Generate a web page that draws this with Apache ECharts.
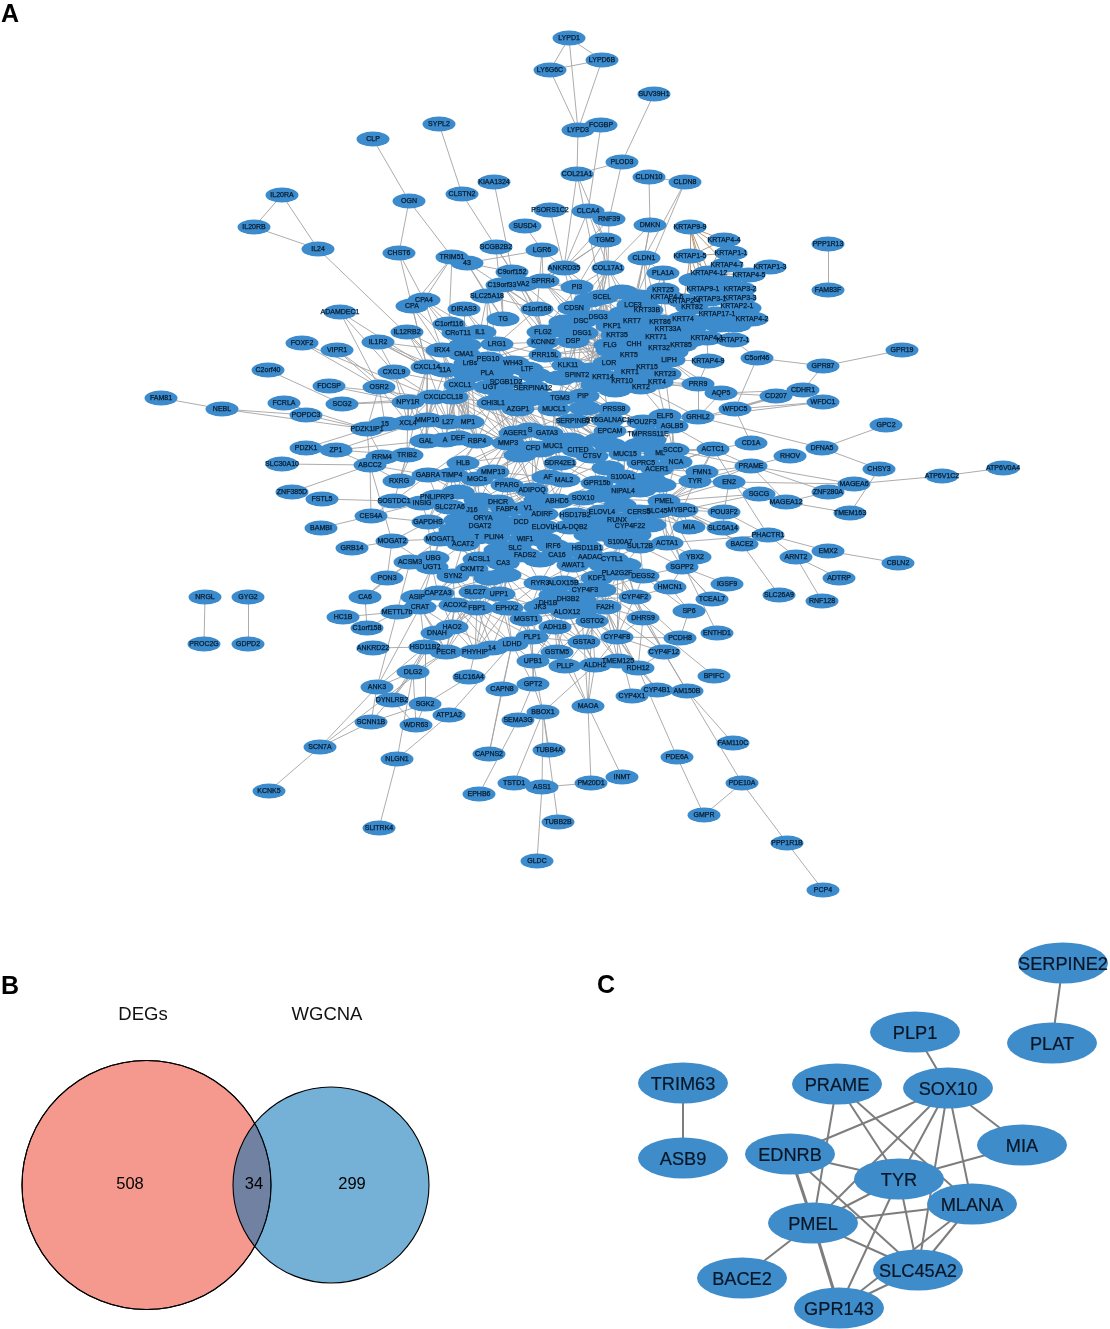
<!DOCTYPE html>
<html><head><meta charset="utf-8">
<style>html,body{margin:0;padding:0;background:#fff}#c{width:1110px;height:1329px}</style>
<script src="https://cdn.jsdelivr.net/npm/echarts@6/dist/echarts.min.js"></script>
</head><body><div id="c"></div>
<script>
const panelANodes = [
["LYPD1",569,38],["LYPD6B",602,60],["LY6G6C",550,70],["FCGBP",601,125],["LYPD3",578,130],["SUV39H1",654,94],["PLOD3",622,162],["COL21A1",577,174],["CLDN10",649,177],["CLDN8",685,182],
["PSORS1C2",550,210],["CLCA4",588,211],["RNF39",609,219],["SUSD4",525,226],["DMKN",650,225],["KRTAP9-9",690,227],["TGM5",605,240],["LGR6",542,250],["CLDN1",644,258],["ANKRD35",564,268],["COL17A1",608,268],
["KRTAP4-4",724,240],["KRTAP1-1",731,253],["KRTAP1-5",690,256],["KRTAP4-7",727,265],["KRTAP1-3",770,267],["PLA1A",663,273],["KRTAP4-12",709,273],["KRTAP4-5",749,275],["PPP1R13",828,244],["FAM83F",828,290],
["CLP",373,139],["SYPL2",439,124],["OGN",409,201],["CLSTN2",462,194],["KIAA1324",494,182],["IL20RA",282,195],["IL20RB",254,227],["IL24",318,249],["CHST6",399,253],["TRIM51",452,257],["43",467,263],["SCGB2B2",496,247],["C9orf152",512,272],
["C19orf33",502,285],["VA2",523,284],["SPRR4",543,281],["SLC25A18",487,296],["CPA",412,306],["CPA4",424,300],["ADAMDEC1",340,312],["DIRAS3",464,309],["C1orf168",537,309],
["TG",503,319],["C1orf116",449,324],["CRoT11",458,333],["IL1",480,332],["IL12RB2",407,332],["FLG2",543,332],["KCNN2",543,342],["LRG1",497,344],["IL1R2",378,342],["IRX4",442,350],["CMA1",464,354],["PEG10",488,359],["PRR15L",545,355],["VIPR1",337,350],["FOXF2",302,343],["C2orf40",268,370],
["LrBs",470,363],["WH43",513,363],["LTF",527,369],["CXCL14",427,367],["11A",445,370],["CXCL9",394,372],["PLA",487,373],["SCGB1D2",506,382],["SERPINA12",533,388],["UGT",490,387],["CXCL1",460,385],["OSR2",379,387],["FDCSP",329,386],["CCL18",452,397],["CXCL",433,397],["NPY1R",408,402],["CHI3L1",493,403],["SCG2",342,404],["FCRLA",284,403],["POPDC3",306,415],["FAM81",161,398],["NEBL",222,409],
["AZGP1",518,409],["MUCL1",554,409],["TGM3",560,398],["SERPINB2",573,421],["PDZK1IP1",367,429],["15",385,424],["XCL4",408,423],["MMP10",427,420],["L27",448,422],["MP1",468,422],["GAL",426,441],["A",445,440],["DEF",458,438],["RBP4",477,441],["S",530,430],["AGER1",515,433],["GATA3",547,433],["MMP3",508,443],["CFD",533,448],["MUC1",553,446],["PDZK1",306,448],["ZP1",336,450],["SLC30A10",282,464],["CITED",578,450],
["ABCC2",370,465],["RRM4",382,457],["TRIB2",407,455],["RXRG",399,481],["HLB",463,463],["GABRA",428,475],["TIMP4",452,475],["MMP13",493,472],["MGCs",477,479],["PPARG",507,485],["ADIPOQ",532,490],["AF",548,477],["MAL2",564,480],["GPR15b",597,483],["SDR42E1",560,463],["CTSV",592,456],
["ZNF385D",292,492],["FSTL5",322,499],["SOSTDC1",394,501],["PNLIPRP3",437,497],["INSIG",422,503],["SLC27A6",450,507],["J16",472,510],["DHCR",498,502],["FABP4",507,509],["V1",528,508],["ADIRF",542,514],["ABHD5",557,501],["SOX10",583,498],["ELOVL4",602,512],["HSD17B2",575,515],["RUNX",617,520],["CES4A",371,516],["BAMBI",321,528],["GAPDHS",428,522],["ORYA",483,518],["DGAT2",480,526],["DCD",521,522],["ELOVL",543,527],["HLA-DQB2",570,527],
["T",477,537],["MOGAT2",392,541],["GRB14",352,548],["MOGAT1",440,539],["ACAT2",463,544],["PLIN4",494,537],["WIF1",525,539],["SLC",515,548],["IRF6",553,546],["HSD11B1",587,548],["CA16",557,555],["FADS2",525,555],["AADAC",590,557],["CYTL1",612,559],["ACSL1",479,559],["CA3",503,563],["AWAT1",573,565],["ACSM3",410,562],["UBG",433,558],["UGT1",432,567],["CKMT2",472,569],["SYN2",453,576],["PON3",387,578],
["KDF1",597,578],["PLA2G2F",617,573],["RYR3",540,583],["ALOX15B",563,583],["CYP4F3",585,590],["SLC27",475,592],["UPP1",499,594],["CAPZA3",438,593],["ASIP",417,597],["CA6",365,597],["CRAT",420,607],["ACOX2",455,605],["METTL7b",397,612],["FBP1",477,608],["EPHX2",507,608],["JK3",540,607],["DH1B",548,603],["DH3B2",568,599],["ALOX12",567,612],["FA2H",605,607],["GSTO2",592,621],["MGST1",526,619],["ADH1B",555,627],["HAO2",452,627],["C1orf158",367,628],["HC1B",343,617],
["DNAH",437,633],["ANKRD22",373,648],["HSD11B2",425,647],["PECR",446,652],["PHYHIP",475,652],["14",492,648],["LDHD",512,644],["PLP1",532,637],["GSTA3",584,642],["GSTM5",557,652],["UPB1",533,661],["PLLP",565,666],["ALDH2",595,665],["DLG2",413,672],["SLC16A4",469,677],["CAPN8",502,689],["GPT2",533,684],["ANK3",377,687],["DYNLRB2",392,700],["SGK2",425,704],["ATP1A2",449,715],["BBOX1",543,712],["SEMA3G",518,720],["MAOA",588,706],["SCNN1B",371,722],["WDR63",416,725],["TUBB4A",549,750],["CAPNS2",489,754],["NLGN1",397,759],["TSTD1",514,783],["ASS1",542,787],["PM20D1",591,783],["SCN7A",320,747],["KCNK5",269,791],["SLITRK4",379,828],["EPHB6",479,794],["TUBB2B",558,822],["GLDC",537,861],
["CYP4F2",635,597],["TCEAL7",712,599],["SP6",689,611],["DHRS9",643,618],["ENTHD1",717,633],["PCDH8",680,638],["CYP4F8",617,637],["CYP4F12",664,652],["TMEM125",618,661],["RDH12",638,668],["BPIFC",714,676],["CYP4B1",657,690],["AM150B",687,691],["CYP4X1",632,696],["FAM110C",733,743],["PDE6A",677,757],["PDE10A",742,783],["INMT",622,777],["GMPR",704,815],["PPP1R1B",787,843],["PCP4",823,890],
["DFNA5",822,448],["GPC2",886,425],["CHSY3",879,469],["ATP6V1C2",942,476],["ATP6V0A4",1003,468],["MAGEA6",854,484],["ZNF280A",828,492],["TMEM163",850,513],["MAGEA12",786,502],["SGCG",759,494],["PRAME",751,466],["RHOV",790,456],["CD1A",751,443],["ACTC1",713,449],["GRHL2",698,417],["WFDC5",735,409],["WFDC1",823,402],["ELF5",665,416],["AGLB5",672,426],["POU2F3",643,422],["TMPRSS11E",648,434],["EPCAM",610,431],["ST6GALNAC1",608,420],["PRSS8",614,409],["MUC15",625,454],["ML",660,453],["SCCD",673,450],["NCA",676,462],["GPRC5",643,463],["ACER1",657,469],["S100A1",623,477],["FMN1",702,472],["TYR",695,481],["EN2",729,482],["NIPAL4",623,491],["PMEL",664,501],["CERS5",639,512],["SLC45",657,511],["MYBPC1",682,510],["POU3F2",724,512],["CYP4F22",630,526],["MIA",689,527],["SLC6A14",723,528],["S100A7",620,542],["SULT2B",640,546],["ACTA1",667,543],["BACE2",742,544],["PHACTR1",768,535],["EMX2",828,551],["ARNT2",796,557],["CBLN2",898,563],["ADTRP",839,578],["SLC26A9",779,595],["RNF128",822,601],["YBX2",695,557],["SGPP2",682,567],["DEGS2",643,576],["HMCN1",670,587],["IGSF9",727,584],
["GPR19",902,350],["GPR87",823,366],["C5orf46",757,358],["CD207",776,396],["CDHR1",803,390],["AQP5",721,393],["PRR9",698,384],["KRTAP4-9",708,361],["KRTAP7-1",733,340],["KRTAP4-1",707,338],["KRTAP4-2",752,319],["KRTAP2-1",737,306],["KRTAP3-3",740,298],["KRTAP3-2",740,289],["KRTAP9-1",703,289],["KRTAP3-1",710,299],["KRTAP2-4",684,301],["KRT82",692,307],["KRTAP17-1",717,314],["KRT25",663,290],["KRTAP4-6",667,297],
["PI3",577,287],["SCEL",602,297],["LCE3",633,305],["KRT33B",647,310],["KRT74",683,319],["KRT86",660,322],["KRT7",632,321],["DSG3",598,317],["CDSN",574,308],["DSC",581,321],["PKP1",612,326],["DSG1",582,333],["KRT35",617,335],["KRT33A",668,329],["KRT71",656,337],["KRT85",681,345],["DSP",573,341],["FLG",610,345],["CHH",634,344],["KRT5",629,355],["KRT32",659,348],["LIPH",669,360],["KRT15",647,367],["LOR",609,363],["KLK11",568,365],["SPINT2",577,375],["KRT14",603,377],["KRT1",630,372],["KRT10",622,381],["KRT23",665,374],["KRT4",657,382],["KRT2",641,387],["PIP",583,396]
];
const occludedNodes = [
["KRT6A",640,297],["KRT6B",650,298],["KRT16",625,313],["KRT17",645,322],["KRT9",640,332],["KRT13",650,345],["KRT19",642,355],["KRT31",660,358],["KRT34",628,335],["KRT36",690,328],["KRT37",700,322],["KRT38",720,325],["KRT81",735,325],["KRT83",730,315],["KRTAP2-2",725,283],["KRTAP2-3",695,280],["KRTAP3-4",720,290],["KRTAP4-3",745,308],["KRTAP4-8",690,340],["KRT72",672,352],["KRT73",655,365],["KRT75",675,335],["KRT76",630,363],["KRT77",640,378],["KRT78",615,390],["KRT79",597,385],["KRT80",590,370],["SPRR1A",560,378],["SPRR1B",560,330],["SPRR2A",565,322],["SPRR2D",590,300],["PPL",622,292],["EVPL",612,350],["TCHH",636,362],
["CIDEC",495,520],["PLIN1",505,528],["LIPE",540,500],["AQP7",590,520],["FAR2",600,530],["CYP2E1",610,535],["SCD",590,535],["PCK1",480,500],["LPL",460,520],["CD36",455,530],["GPAM",500,550],["ELOVL3",540,560],["ACSL4",570,550],["ACOT7",605,565],["CRABP2",625,565],["HADH",545,540],["ALDOC",535,530],["GK",505,575],["CIDEA",490,578],["AGPAT2",580,600],["GPD1",555,595],["ACADL",600,590],["ADH4",582,610],["PTGES",458,492],
["MUC5B",600,440],["LTF2",610,445],["CST6",650,480],["SCGB3A1",640,490],["DCT",620,505],["KIT",615,495],["GJB6",650,525],["TRPM1",635,535],["PAX3",650,440],["ETV4",640,445],["TFAP2A",600,495],["EDNRB",645,480],["MLANA",660,485],["SLC24A5",608,468],
["BPIFA1",525,400],["ZG16B",535,375],["AMY1",470,375],["STATH",500,370],["LCN2",465,345],["DMBT1",540,450],["PSCA",520,455],["MSMB",570,440],["CCL28",505,395],["PRB1",540,398],["AQP3",585,408]
];
const panelAEdges = [
["LYPD1","LY6G6C LYPD6B LYPD3"],["LY6G6C","LYPD6B LYPD3"],["LYPD6B","LYPD3"],["LYPD3","COL21A1"],["FCGBP","CLCA4"],["SUV39H1","PLOD3"],["PLOD3","COL21A1 RNF39"],["COL21A1","ANKRD35 TGM5 SCEL"],["CLCA4","ANKRD35 COL17A1 TGM5"],["PSORS1C2","ANKRD35"],["CLDN10","CLDN8 DMKN"],["CLDN8","CLDN1 LCE3"],["DMKN","CLDN1 COL17A1 KRT7"],["CLDN1","KRT33B KRT7 LCE3 KRT86"],["RNF39","COL17A1 ANKRD35"],["TGM5","COL17A1 ANKRD35 SPRR4 PI3 SCEL"],["SUSD4","LGR6"],["LGR6","ANKRD35 C1orf168 SPRR4"],["ANKRD35","SPRR4 PI3 VA2 CDSN SCEL"],["COL17A1","PI3 SCEL DSG3 DSC PKP1 CDSN LCE3 KRT7 DSG1"],
["CLP","OGN"],["OGN","CHST6 TRIM51"],["SYPL2","CLSTN2"],["CLSTN2","SCGB2B2"],["SCGB2B2","TG C1orf168 C9orf152"],["KIAA1324","C9orf152"],["IL20RA","IL20RB IL24"],["IL20RB","IL24"],["IL24","CXCL1"],["CHST6","CPA4 CXCL14"],["TRIM51","CPA4 CPA C1orf116 43"],["43","C9orf152 C1orf168 LGR6 SLC25A18 TG"],["C9orf152","SLC25A18 C1orf168 VA2 FLG2"],["C19orf33","SPRR4 C1orf168 TG FLG2 KCNN2"],["VA2","DSG1 FLG2 SCEL"],["SPRR4","CDSN DSC DSG1 PI3 SCEL"],["SLC25A18","TG LRG1 C1orf168 PEG10 IL1"],["CPA4","IRX4 CMA1 C1orf116 LRG1"],["CPA","IRX4 CMA1 CXCL14"],["ADAMDEC1","CXCL9 CXCL14 OSR2"],["DIRAS3","IL1 LRG1 CMA1"],["C1orf168","KCNN2 FLG2 LRG1 DSG1"],["IL12RB2","IRX4 CXCL14 11A"],["IL1R2","CXCL9 IRX4 CXCL14 11A CXCL1"],["VIPR1","OSR2 NPY1R"],["FOXF2","OSR2 CXCL"],["C2orf40","SCG2"],["SCG2","NPY1R CCL18"],["FDCSP","NPY1R CXCL"],["FAM81","NEBL"],["NEBL","POPDC3 PDZK1IP1"],["POPDC3","PDZK1IP1"],["FCRLA","PDZK1IP1"],["PDZK1","PDZK1IP1"],["PDZK1IP1","ABCC2 XCL4 15 RRM4"],["ZP1","ABCC2 MMP10 TRIB2 GAL"],["SLC30A10","ABCC2"],["ZNF385D","ABCC2"],["FSTL5","SOSTDC1"],["BAMBI","CES4A"],["GRB14","MOGAT2"],["ABCC2","CES4A MOGAT2 RXRG GABRA"],["CES4A","SOSTDC1 GAPDHS INSIG"],["OSR2","NPY1R XCL4 PDZK1IP1 15"],["CXCL9","NPY1R CXCL XCL4 CXCL1"],["RXRG","GABRA TRIB2 MMP10"],["SOSTDC1","GABRA INSIG TRIB2"],["MOGAT2","MOGAT1 GAPDHS UGT1 PON3"],["PON3","ACSM3 CA6"],
["IRX4","CXCL1 CCL18 MP1 LrBs LRG1"],["CMA1","CXCL1 MP1 MMP10 PLA SCGB1D2 CHI3L1 AZGP1"],["PEG10","CHI3L1 SCGB1D2 AZGP1 KCNN2 PRR15L UGT MMP3"],["LRG1","KCNN2 PRR15L WH43 SERPINA12 AZGP1 LTF"],["CXCL1","CHI3L1 MP1 L27 RBP4 AGER1 MMP3 DEF A"],["CCL18","MP1 L27 RBP4 MMP3 AGER1 GATA3 CHI3L1"],["CXCL","MMP10 L27 XCL4 A GAL"],["NPY1R","XCL4 MMP10 GAL TRIB2"],["CHI3L1","AGER1 MMP3 S GATA3 MUCL1 CFD AZGP1 MP1 RBP4"],["AZGP1","S AGER1 GATA3 MUC1 MUCL1 CFD MMP3 RBP4 CITED"],["SCGB1D2","AGER1 GATA3 S MUC1 TGM3 SERPINB2 MUCL1"],["SERPINA12","TGM3 PIP MUCL1 GATA3 CITED SERPINB2 MUC1"],["LTF","TGM3 PIP SERPINA12 MUCL1 SERPINB2 KLK11"],["MUCL1","CITED CTSV MUC1 SDR42E1 EPCAM PIP SERPINB2 MUC15"],["TGM3","PIP ST6GALNAC1 PRSS8 EPCAM SPINT2 LOR KRT14"],["KLK11","PIP TGM3 FLG DSP DSG1 LOR PRR15L KCNN2 MUCL1"],["PRR15L","DSP DSG1 KLK11 SPINT2 FLG2 DSC WH43 LOR FLG"],["SPINT2","PIP TGM3 EPCAM LOR KRT14 PRSS8 SERPINB2"],["FLG2","DSG1 DSC CDSN DSP KCNN2 PI3"],["KCNN2","DSG1 DSP CDSN KLK11"],["PIP","PRSS8 EPCAM ST6GALNAC1 KRT14 KRT2 KRT10 POU2F3"],["SERPINB2","EPCAM PRSS8 ST6GALNAC1 CITED CTSV MUC15"],
["CDSN","DSG3 DSC DSG1 DSP PKP1 FLG LOR PI3 SCEL"],["PI3","SCEL DSG3 DSC KRT7 LCE3 PKP1"],["SCEL","DSG3 PKP1 LCE3 KRT7 KRT35 FLG KRT5 LOR KRT33B"],["DSG3","DSC DSG1 PKP1 KRT35 FLG DSP LOR KRT5"],["DSC","DSG1 DSP PKP1 FLG LOR KRT14"],["DSG1","DSP PKP1 FLG LOR KRT14 KRT5 KLK11 SPINT2"],["DSP","FLG LOR KRT14 PKP1 KRT5 KRT1 SPINT2 KRT10"],["PKP1","KRT35 FLG KRT5 KRT1 LOR KRT15 KRT14 CHH"],["FLG","LOR KRT5 KRT1 KRT10 KRT14 KRT15 KRT2 CHH"],["LOR","KRT5 KRT1 KRT10 KRT14 KRT2 KRT15 LIPH"],["KRT5","KRT14 KRT1 KRT10 KRT15 KRT2 KRT4 KRT23 KRT32 CHH KRT35 KRT71 LIPH"],["KRT14","KRT1 KRT10 KRT2 KRT4 KRT15 EPCAM"],["KRT1","KRT10 KRT2 KRT15 KRT4 KRT23 LIPH"],["KRT15","KRT2 KRT4 KRT23 KRT10 LIPH KRT32"],["KRT2","KRT10 KRT4 KRT23 PRR9 GRHL2 ELF5"],["KRT4","KRT23 PRR9 AQP5 ELF5"],["KRT23","LIPH PRR9 AGLB5"],["LIPH","KRTAP4-9 PRR9 AQP5 KRT32 KRT85"],["KRT32","KRT85 KRT71 KRT33A KRT86 KRT74 KRT35 CHH"],["KRT85","KRT86 KRT74 KRT33A KRT71 KRT33B KRT82 KRTAP4-1"],["KRT86","KRT74 KRT33A KRT33B KRT71 KRT25 KRT82 KRT7"],["KRT33B","KRT33A KRT74 KRT71 KRT7 LCE3 KRT25"],["KRT33A","KRT74 KRT71 KRT82 KRT25"],["KRT7","LCE3 KRT35 PKP1 KRT71 KRT5"],["KRT74","KRT82 KRT25 KRTAP4-1"],["PLA1A","KRT25 KRTAP4-6 KRT33B"],["CLDN1","PLA1A"],
["KRTAP4-9","KRTAP4-1 PRR9"],["PRR9","AQP5 GRHL2"],["AQP5","GRHL2 CD207 CDHR1"],["C5orf46","KRTAP7-1 WFDC5 GPR87"],["GPR19","GPR87"],["GPR87","CDHR1"],["CD207","WFDC5 AGLB5"],["CDHR1","WFDC5 CD207"],["WFDC1","WFDC5 GRHL2"],["CD1A","WFDC5 ACTC1"],["GPC2","DFNA5"],["DFNA5","CHSY3 GRHL2"],["CHSY3","TMEM163"],["ATP6V1C2","ATP6V0A4 MAGEA6"],["MAGEA6","PRAME EN2"],["ZNF280A","PRAME MAGEA12"],["MAGEA12","PRAME TMEM163"],["SGCG","PMEL MYBPC1 EN2"],["RHOV","PRAME"],["PRAME","FMN1 ACTC1 TYR PMEL SCCD"],["EN2","POU3F2 TYR PMEL"],["ACTC1","PHACTR1 SCCD NCA FMN1 TYR ACER1 ML"],["FMN1","TYR ACER1 PMEL NCA"],["TYR","MYBPC1 PMEL SLC45 NCA ACER1 SCCD"],["MYBPC1","PMEL SLC45 CERS5 MIA SLC6A14 POU3F2 BACE2 ACTA1"],["POU3F2","PHACTR1 SLC6A14 PMEL"],["EMX2","PHACTR1 CBLN2"],["ARNT2","PHACTR1 RNF128 ADTRP"],["BACE2","SLC26A9 PMEL"],["ACTA1","PHACTR1 YBX2 SULT2B SLC45 PMEL SGPP2"],["SGPP2","IGSF9 TCEAL7 SULT2B DEGS2 HMCN1 PMEL"],["ENTHD1","SLC45"],["YBX2","PMEL"],["GRHL2","ELF5 AGLB5 POU2F3"],["ELF5","AGLB5 POU2F3 TMPRSS11E SCCD EPCAM ST6GALNAC1"],["AGLB5","TMPRSS11E SCCD ML NCA ACTC1 MUC15"],["POU2F3","TMPRSS11E EPCAM MUC15 ST6GALNAC1 PRSS8 ML"],["TMPRSS11E","EPCAM MUC15 ML GPRC5 S100A1"],["EPCAM","ST6GALNAC1 PRSS8 MUC15 CTSV GPR15b S100A1 CITED"],["MUC15","CTSV GPRC5 S100A1 ACER1 MAL2 ML NIPAL4 GPR15b"],["ML","SCCD NCA ACER1 GPRC5 PMEL"],["SCCD","NCA ACER1 GPRC5"],["NCA","ACER1 GPRC5 PMEL"],["GPRC5","ACER1 S100A1 NIPAL4 PMEL"],["S100A1","NIPAL4 GPR15b SOX10 SDR42E1"],["NIPAL4","GPR15b SOX10 ELOVL4 PMEL CERS5 RUNX"],["GPR15b","MAL2 ABHD5 SOX10 SDR42E1 CTSV"],["SOX10","ABHD5 ELOVL4 HSD17B2 RUNX PMEL MIA TYR"],["PMEL","SLC45 CERS5 CYP4F22 MIA RUNX"],["SLC45","CERS5 MIA CYP4F22 SULT2B"],["CERS5","CYP4F22 RUNX ELOVL4 SULT2B"],["CYP4F22","RUNX ELOVL4 S100A7 SULT2B HSD11B1 CYTL1"],["RUNX","ELOVL4 HSD17B2 HLA-DQB2 S100A7"],["ELOVL4","HLA-DQB2 HSD17B2 ABHD5 ELOVL"],["S100A7","SULT2B CYTL1 HSD11B1 AADAC PLA2G2F KDF1"],["SULT2B","CYTL1 DEGS2 PLA2G2F"],["CYTL1","HSD11B1 AADAC AWAT1 KDF1 PLA2G2F DEGS2"],
["SDR42E1","CTSV MAL2 AF ADIPOQ CFD MUC1 PPARG"],["CTSV","CITED MAL2 MUC1"],["CITED","MUC1 SDR42E1 CFD"],["MUC1","CFD GATA3 S SDR42E1 AF MAL2"],["CFD","GATA3 S AGER1 MMP3 ADIPOQ PPARG MMP13"],["GATA3","S AGER1 MMP3"],["AGER1","MMP3 S RBP4 MMP13 MGCs"],["MMP3","RBP4 MP1 MMP13 HLB PPARG TIMP4"],["RBP4","DEF L27 MP1 GAL HLB MMP13 TIMP4 GABRA"],["MP1","MMP10 L27 DEF MMP3"],["MMP10","L27 GAL XCL4 15 A"],["TIMP4","HLB GABRA MMP13 MGCs PNLIPRP3 SLC27A6 GAPDHS"],["HLB","MMP13 MGCs GABRA PPARG"],["MMP13","MGCs PPARG ADIPOQ AF"],["MGCs","PPARG DHCR SLC27A6 J16 PNLIPRP3"],["PPARG","ADIPOQ FABP4 DHCR V1 AF ADIRF DCD"],["ADIPOQ","AF MAL2 FABP4 V1 ADIRF ABHD5 DHCR DGAT2 ORYA"],["AF","MAL2 ABHD5 ADIRF V1"],["MAL2","ABHD5 GPR15b ADIRF"],["ABHD5","ADIRF V1 HSD17B2 ELOVL"],["FABP4","DHCR V1 J16 ORYA DGAT2 DCD PLIN4 ADIRF SLC27A6 T"],["DHCR","J16 ORYA SLC27A6 V1"],["V1","ADIRF DCD ELOVL WIF1 ORYA"],["ADIRF","DCD ELOVL HSD17B2 IRF6 HLA-DQB2 WIF1"],["DCD","ELOVL WIF1 PLIN4 DGAT2 SLC IRF6"],["DGAT2","ORYA T ACAT2 PLIN4 MOGAT1 J16 SLC27A6 ACSL1"],["J16","ORYA SLC27A6 T PNLIPRP3"],["SLC27A6","INSIG PNLIPRP3 GAPDHS MOGAT1 ACAT2"],["PNLIPRP3","INSIG GABRA GAPDHS"],["GAPDHS","MOGAT1 ACAT2 INSIG UGT1"],["MOGAT1","ACAT2 T ACSM3 UGT1 UBG ACSL1"],["ACAT2","T ACSL1 CKMT2 PLIN4 SYN2 UGT1"],["T","PLIN4 ACSL1 CKMT2 SLC"],["PLIN4","WIF1 SLC FADS2 CA3 ACSL1 CKMT2"],["WIF1","SLC FADS2 IRF6 CA16 ELOVL AWAT1"],["SLC","FADS2 CA3 CA16"],["FADS2","CA3 CA16 IRF6 AWAT1 RYR3 UPP1 ACSL1"],["IRF6","CA16 HSD11B1 AWAT1 AADAC HLA-DQB2"],["CA16","AWAT1 HSD11B1 ALOX15B RYR3"],["HSD11B1","AADAC AWAT1 HLA-DQB2 KDF1"],["AWAT1","ALOX15B KDF1 RYR3 CYP4F3 AADAC"],["ACSL1","CA3 CKMT2 SYN2"],["CKMT2","SYN2 CA3 SLC27 CAPZA3 UPP1"],["CA3","SLC27 UPP1 EPHX2 RYR3"],["ACSM3","UBG UGT1 METTL7b CA6"],["UGT1","UBG SYN2 CAPZA3 ASIP CRAT"],["SYN2","CAPZA3 ACOX2 SLC27 CRAT FBP1"],
["RYR3","ALOX15B JK3 EPHX2 DH1B UPP1 MGST1"],["ALOX15B","CYP4F3 DH3B2 KDF1 ALOX12 DH1B"],["CYP4F3","KDF1 DH3B2 FA2H ALOX12 PLA2G2F CYP4F2"],["KDF1","PLA2G2F DEGS2 FA2H CYP4F2"],["PLA2G2F","DEGS2 FA2H CYP4F2 DHRS9 CYP4F8"],["DEGS2","HMCN1 CYP4F2 SP6"],["HMCN1","SP6 CYP4F2"],["SLC27","UPP1 ACOX2 FBP1 EPHX2 HAO2 PECR"],["UPP1","EPHX2 FBP1 MGST1 JK3 LDHD PLP1 PHYHIP"],["CAPZA3","ASIP CRAT ACOX2 HAO2 FBP1"],["ASIP","CRAT METTL7b"],["CRAT","ACOX2 METTL7b HAO2 DNAH HSD11B2 PECR ANK3"],["ACOX2","FBP1 HAO2 DNAH PECR PHYHIP 14 LDHD"],["METTL7b","HC1B C1orf158 ANK3"],["C1orf158","CA6"],["FBP1","EPHX2 HAO2 PECR PHYHIP 14 LDHD MGST1 PLP1"],["EPHX2","JK3 MGST1 LDHD 14 PLP1 PHYHIP ADH1B"],["JK3","DH1B MGST1 ADH1B ALOX12 PLP1 GSTA3"],["DH1B","DH3B2 ALOX12 ADH1B GSTO2"],["DH3B2","ALOX12 FA2H GSTO2 CYP4F8 TMEM125"],["ALOX12","FA2H GSTO2 ADH1B MGST1 GSTA3 GSTM5 ALDH2"],["FA2H","GSTO2 CYP4F2 CYP4F8 DHRS9 GSTA3 CYP4F12 RDH12 TMEM125"],["CYP4F2","DHRS9 CYP4F8 CYP4F12 PCDH8"],["DHRS9","CYP4F8 CYP4F12 RDH12 BPIFC AM150B"],["CYP4F8","CYP4F12 TMEM125 RDH12 GSTO2 GSTA3 ALDH2 CYP4X1 CYP4B1 PCDH8"],["CYP4F12","RDH12 AM150B"],["RDH12","TMEM125 PDE6A CYP4B1"],["GSTO2","GSTA3 ADH1B TMEM125 ALDH2 GSTM5 MAOA"],["ADH1B","MGST1 GSTM5 GSTA3 PLP1 PLLP UPB1 ALDH2 MAOA"],["MGST1","PLP1 LDHD GSTM5 UPB1"],["HAO2","DNAH PECR PHYHIP HSD11B2 14"],["DNAH","HSD11B2 PECR DLG2"],["HSD11B2","PECR ANKRD22 DLG2 SGK2 ANK3 DYNLRB2"],["PECR","PHYHIP DLG2 14 SCN7A"],["PHYHIP","14 SLC16A4 LDHD"],["14","LDHD PLP1"],["LDHD","PLP1 UPB1 GPT2 ATP1A2 CAPN8 CAPNS2"],["PLP1","UPB1 GSTM5 PLLP GPT2 ADH1B GSTA3"],["GSTM5","UPB1 PLLP GSTA3 MAOA"],["UPB1","GPT2 PLLP BBOX1"],["GSTA3","ALDH2 MAOA PLLP"],["ALDH2","MAOA BBOX1 PLLP TMEM125"],["TMEM125","RDH12"],["MAOA","PM20D1 INMT"],["PM20D1","ASS1"],["ASS1","BBOX1 GLDC"],["TUBB2B","BBOX1"],["TUBB4A","BBOX1"],["TSTD1","BBOX1"],["GPT2","BBOX1 SEMA3G"],["EPHB6","SEMA3G"],["CAPNS2","CAPN8"],["NLGN1","ATP1A2 SLITRK4 DLG2"],["SCN7A","KCNK5 ANK3 SCNN1B"],["SGK2","SLC16A4 SCNN1B WDR63 HSD11B2"],["ANK3","DLG2 DYNLRB2 SCNN1B"],["DLG2","DYNLRB2 WDR63 SCNN1B"],["DYNLRB2","WDR63"],["AM150B","FAM110C PDE10A"],["PDE10A","GMPR PPP1R1B"],["PPP1R1B","PCP4"],["PDE6A","GMPR"],["PCDH8","SP6"],["PPP1R13","FAM83F"],["TCEAL7","SGPP2"],
["KRT79","KRT5 FLG LOR DSG3 KRT35 CHH PKP1 KRT1 SCEL DSG1"],["KRT80","KRT35 PKP1 FLG KRT5 CHH KRT71 DSG3 SCEL"],["EVPL","DSP DSG1 DSC CDSN KRT14 KLK11 SPINT2 PRR15L"],["PPL","KRT33B KRT7 DSG3 PKP1 CDSN DSC"],["SPRR1A","LOR FLG KRT14 PRR15L SERPINA12 LTF PIP"],["SPRR1B","PRR15L KLK11 FLG FLG2 DSP"],
["MUC5B","SERPINB2 MUCL1 MUC15 CITED TGM3 AZGP1 SDR42E1 PRSS8"],["LTF2","CTSV MUC1 SDR42E1 ST6GALNAC1 PRSS8 AQP3"],["AQP3","SERPINA12 MUCL1 GATA3 S AZGP1 EPCAM TGM3"],
["PCK1","MMP13 HLB TIMP4 MGCs PPARG SLC27A6 J16 ADIPOQ"],["LIPE","MMP13 AF PPARG MAL2 MMP3 CFD SDR42E1 MGCs"],["PTGES","TIMP4 HLB GABRA MGCs INSIG SLC27A6"],["PSCA","MMP3 PPARG ADIPOQ AF HLB MMP13 MGCs"],["DMBT1","ADIPOQ AF SDR42E1 MAL2 MMP13 PPARG"],
["GK","FBP1 EPHX2 UPP1 JK3 RYR3 SLC27 ACOX2 MGST1 HAO2"],["CIDEA","ACOX2 SLC27 FBP1 UPP1 EPHX2 HAO2 CAPZA3 PHYHIP"],["GPD1","RYR3 JK3 DH1B MGST1 ADH1B EPHX2 ALOX12"],["AGPAT2","ALOX12 GSTO2 FA2H ADH1B GSTA3 CYP4F2 DH1B"],["ACADL","FA2H GSTO2 CYP4F2 DEGS2 GSTA3 CYP4F8 DHRS9"],["CRABP2","DEGS2 CYP4F2 CYP4F8 HMCN1 DHRS9"],["ACOT7","KDF1 PLA2G2F FA2H ALOX15B GSTO2"],
["CXCL14","XCL4 MMP10 L27 TRIB2 GAL"],["11A","MMP10 L27 MP1 DEF RBP4 CHI3L1"],["LrBs","MP1 L27 CHI3L1 DEF RBP4 AGER1 MMP3"],["CCL18","DEF A"],
["NRGL","PROC2G"],["GYG2","GDPD2"]
];
const panelATanEdges = [
["KRTAP9-9","KRTAP1-5 KRTAP4-7 KRTAP1-1 KRTAP4-12 KRTAP4-4 KRTAP3-1 KRTAP9-1"],["KRTAP4-4","KRTAP4-12 KRTAP1-5"],["KRTAP1-1","KRTAP1-5 KRTAP4-12 KRTAP9-1"],["KRTAP1-5","KRTAP4-12 KRTAP2-4 KRTAP9-1 KRT82"],["KRTAP1-3","KRTAP4-5"],["KRTAP4-5","KRTAP4-12 KRTAP3-2"],["KRTAP3-1","KRT82 KRT74 KRTAP17-1 KRTAP2-4"],["KRTAP17-1","KRTAP4-1 KRT85 KRTAP4-2 KRTAP7-1 KRT74"],["KRTAP4-6","KRT25 KRT82 KRTAP2-4"],["KRTAP2-1","KRTAP17-1 KRTAP4-2"],["KRTAP3-3","KRTAP17-1"],["KRT85","KRTAP4-1 KRTAP17-1"],["KRT5","KRT15 KRT71"],["KRT33A","KRT86 KRT74"]
];
const leftIslandNodes = [["NRGL",205,597],["PROC2G",204,644],["GYG2",248,597],["GDPD2",248,644]];
const panelCNodes = [["SERPINE2",1063,963],["PLAT",1052,1043],["PLP1",915,1032],["TRIM63",683,1083],["PRAME",837,1084],["SOX10",948,1088],["ASB9",683,1158],["EDNRB",790,1154],["MIA",1022,1145],["PMEL",813,1223],["TYR",899,1179],["MLANA",972,1204],["BACE2",742,1278],["GPR143",839,1308],["SLC45A2",918,1270]];
const panelCEdges = [["SERPINE2","PLAT"],["PLP1","SOX10"],["TRIM63","ASB9"],["PRAME","PMEL"],["PRAME","TYR"],["PRAME","MLANA"],["SOX10","EDNRB"],["SOX10","PMEL"],["SOX10","TYR"],["SOX10","MLANA"],["SOX10","SLC45A2"],["SOX10","MIA"],["EDNRB","TYR"],["EDNRB","PMEL"],["EDNRB","SLC45A2"],["MIA","TYR"],["TYR","PMEL"],["TYR","SLC45A2"],["TYR","GPR143"],["MLANA","PMEL"],["MLANA","SLC45A2"],["MLANA","GPR143"],["PMEL","SLC45A2"],["PMEL","BACE2"],["PMEL","GPR143"],["SLC45A2","GPR143"]];
const panelCHeavyEdges = ["EDNRB-PMEL","PMEL-GPR143"];
const vennSets = [["DEGs",146.5,1185,249],["WGCNA",331,1185,196]];
const vennCounts = [["508",130,1184],["34",254,1184],["299",352,1184]];
const vennTitles = [["DEGs",143,1015],["WGCNA",327,1015]];
const panelLetters = [["A",10,15],["B",10,987],["C",606,986]];

const FONT='Liberation Sans, Arial, sans-serif';
function expand(list){const out=[];list.forEach(([a,bs])=>bs.split(" ").forEach(b=>out.push([a,b])));return out;}
function graphNodes(rows,w,h,fill,font,color,showLabel,dy,thick){
  return rows.map(r=>({name:r[0],value:[r[1],r[2]],symbolSize:[w,h],itemStyle:{color:fill,opacity:1},
    label:{show:showLabel,position:'inside',offset:[0,dy],fontSize:font,color:color,opacity:1,textBorderWidth:thick,textBorderColor:color,textShadowBlur:0,fontFamily:FONT}}));
}
const seen=new Set();
const uniqueRows=rows=>rows.filter(r=>!seen.has(r[0])&&seen.add(r[0]));
const hiddenRows=uniqueRows(occludedNodes), shownRows=uniqueRows(panelANodes.concat(leftIslandNodes));
const okEdge = e=>seen.has(e[0])&&seen.has(e[1])&&e[0]!==e[1];
const linksA = expand(panelAEdges).filter(okEdge).map(e=>({source:e[0],target:e[1],lineStyle:{color:'#a3a3a3',width:0.9,opacity:1}}))
  .concat(expand(panelATanEdges).filter(okEdge).map(e=>({source:e[0],target:e[1],lineStyle:{color:'#b79a7e',width:1,opacity:1}})));
const linksC = panelCEdges.map(e=>({source:e[0],target:e[1],lineStyle:{color:'#7d7d7d',width:panelCHeavyEdges.includes(e.join('-'))?3:2,opacity:1}}));
const textSeries=(rows,size,weight,color)=>({type:'scatter',silent:true,symbolSize:1,itemStyle:{color:'rgba(0,0,0,0)',opacity:1},z:20,
  data:rows.map(r=>({name:r[0],value:[r[1],r[2]]})),
  label:{show:true,position:'inside',formatter:'{b}',fontSize:size,fontWeight:weight,color:color,opacity:1,textBorderWidth:0,fontFamily:FONT}});
const vennCircle=(row,fill,z)=>({type:'scatter',silent:true,z:z,symbol:'circle',symbolSize:row[3],
  itemStyle:{color:fill,borderColor:'#000',borderWidth:1.1,opacity:1},data:[{name:row[0],value:[row[1],row[2]]}]});

const chart = echarts.init(document.getElementById('c'),null,{renderer:'canvas'});
chart.setOption({
  animation:false,backgroundColor:'#fff',
  grid:{left:0,right:0,top:0,bottom:0},
  xAxis:{type:'value',min:0,max:1110,show:false},
  yAxis:{type:'value',min:0,max:1329,inverse:true,show:false},
  series:[
    {type:'graph',coordinateSystem:'cartesian2d',layout:'none',silent:true,z:3,
     data:graphNodes(hiddenRows,33,15,'#3c8bcd',7,'#061a2c',false,0,0).concat(graphNodes(shownRows,33,15,'#3c8bcd',7,'#061a2c',true,0,0.25)),links:linksA,edgeSymbol:['none','none']},
    {type:'graph',coordinateSystem:'cartesian2d',layout:'none',silent:true,z:3,
     data:graphNodes(panelCNodes,90,41,'#3f8ccb',18.2,'#071626',true,1.5,0.2),links:linksC,edgeSymbol:['none','none']},
    vennCircle(vennSets[0],'#f5998f',4),
    vennCircle(vennSets[1],'rgba(0,109,180,0.54)',5),
    vennCircle(vennSets[0],'rgba(0,0,0,0)',6),
    textSeries(vennTitles,18.5,'normal','#111'),
    textSeries(vennCounts,16.5,'normal','#000'),
    textSeries(panelLetters,25,'bold','#000')
  ]
});
</script></body></html>
